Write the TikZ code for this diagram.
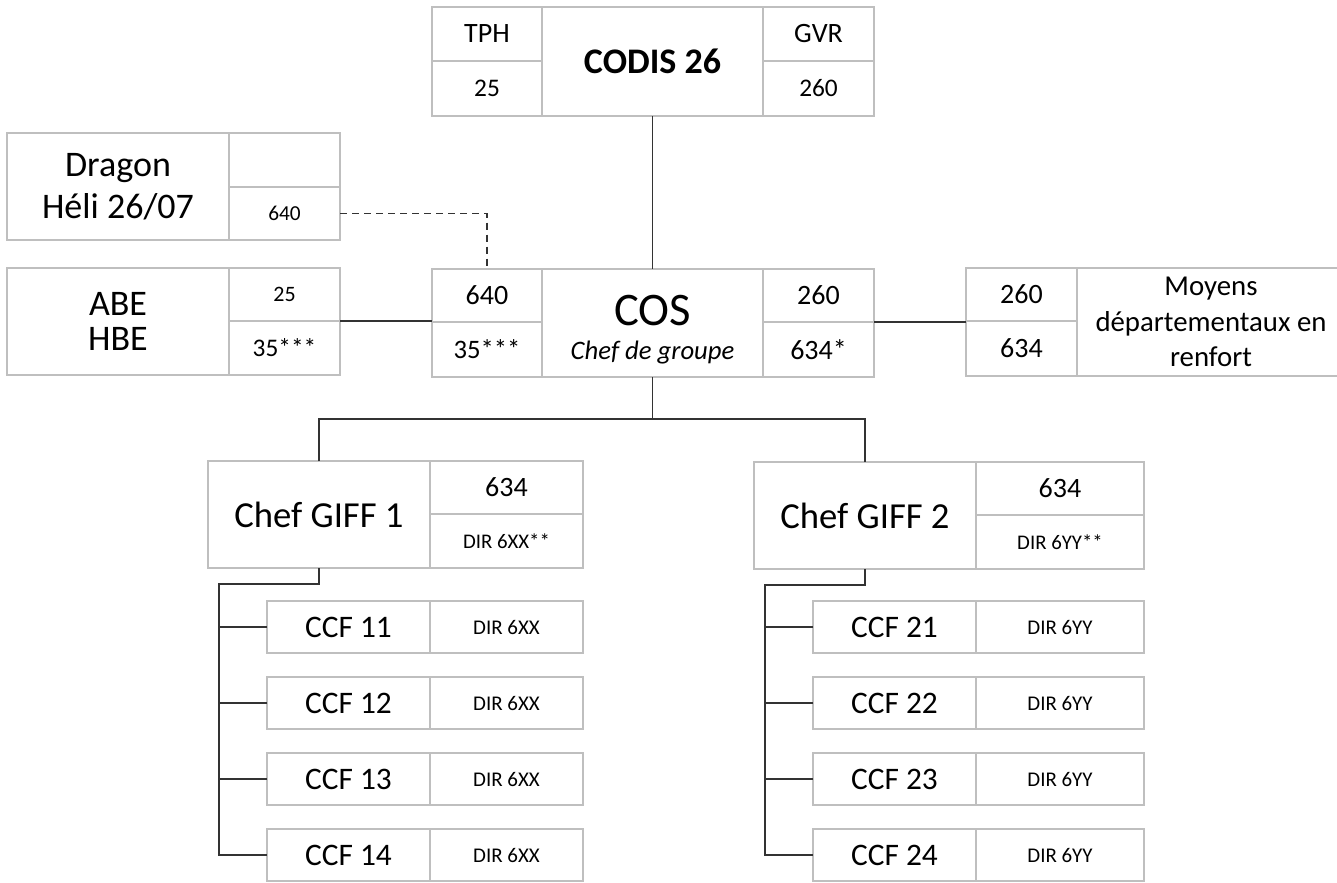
\documentclass[tikz,border=0pt]{standalone}
\usepackage{fontspec}
\setmainfont{Carlito}
\usetikzlibrary{calc,positioning}
\newdimen\udim
\udim=0.75pt
\tikzstyle{cell}=[
  draw=black!25,
  line width=1.5pt,
  rectangle,
  inner sep=0pt,
  outer sep=0pt,
  align=center,
  text centered,
]
\tikzstyle{link}=[
  draw=black!80,
  line width=1pt,
]
\tikzstyle{radiolink}=[
  link,
  dash pattern=on 5.5pt off 3.5pt,
]
\tikzset{
  cellsize/.style 2 args={minimum width=#1*\udim, minimum height=#2*\udim},
  x=0.75pt,
  y=-0.75pt,
}
\newcommand{\fsz}[2]{\fontsize{#1}{#2}\selectfont}

\begin{document}
\begin{tikzpicture}
  \useasboundingbox (0,0) rectangle (1337,882);
  \clip (0,0) rectangle (1337,882);
  \fill[white] (0,0) rectangle (1337,882);
  % CODIS
  \node (tph) [cell, cellsize={110}{54}, anchor=north west, font=\fsz{21}{25}] at (432,7) {TPH};
  \node (tphnum) [cell, cellsize={110}{55}, below=0pt of tph, font=\fsz{19}{23}] {25};
  \node (codis) [cell, cellsize={221}{109}, anchor=north west, font=\bfseries\fsz{27}{32}] at (tph.north east) {CODIS 26};
  \node (gvr) [cell, cellsize={111}{54}, anchor=north west, font=\fsz{21}{25}] at (codis.north east) {GVR};
  \node (gvrnum) [cell, cellsize={111}{55}, below=0pt of gvr, font=\fsz{19}{23}] {260};
  % Dragon
  \node (dragon) [cell, cellsize={222}{107}, anchor=north west, font=\fsz{27}{31.5}] at (7,133) {Dragon\\Héli 26/07};
  \node (dragonfree) [cell, cellsize={111}{54}, anchor=north west] at (dragon.north east) {};
  \node (dragonnum) [cell, cellsize={111}{53}, below=0pt of dragonfree, font=\fsz{16}{19}] {640};
  % ABE / HBE
  \node (abe) [cell, cellsize={222}{107}, anchor=north west, font=\fsz{27}{26}] at (7,268) {ABE\\HBE};
  \node (abeup) [cell, cellsize={111}{53}, anchor=north west, font=\fsz{16.5}{19}] at (abe.north east) {25};
  \node (abedown) [cell, cellsize={111}{54}, below=0pt of abeup, font=\fsz{19}{23}] {35***};
  % COS
  \node (cosa) [cell, cellsize={110}{53}, anchor=north west, font=\fsz{21}{25}] at (432,269) {640};
  \node (cosb) [cell, cellsize={110}{55}, below=0pt of cosa, font=\fsz{20}{24}] {35***};
  \node (cos) [cell, cellsize={221}{108}, anchor=north west, font=\fsz{20}{26}] at (cosa.north east)
    {{\fsz{35}{26}\rule{0pt}{32.5pt}COS}\\{\itshape Chef de groupe}};
  \node (cosc) [cell, cellsize={111}{53}, anchor=north west, font=\fsz{21}{25}] at (cos.north east) {260};
  \node (cosd) [cell, cellsize={111}{55}, below=0pt of cosc, font=\fsz{21}{25}] {634*};
  % renforts
  \node (moyup) [cell, cellsize={111}{53}, anchor=north west, font=\fsz{21}{25}] at (966,268) {260};
  \node (moydown) [cell, cellsize={111}{55}, below=0pt of moyup, font=\fsz{21}{25}] {634};
  \node (moyens) [cell, cellsize={268}{108}, anchor=north west, font=\fsz{21.6}{26.6}] at (moyup.north east)
    {Moyens\\départementaux en\\renfort};
  % GIFF
  \node (giff1) [cell, cellsize={222}{107}, anchor=north west, font=\fsz{27.5}{33}] at (208,461) {Chef GIFF 1};
  \node (giff1up) [cell, cellsize={153}{53}, anchor=north west, font=\fsz{21}{25}] at (giff1.north east) {634};
  \node (giff1down) [cell, cellsize={153}{54}, below=0pt of giff1up, font=\fsz{15.6}{19}] {DIR 6XX**};
  \node (giff2) [cell, cellsize={222}{107}, anchor=north west, font=\fsz{27.5}{33}] at (754,462) {Chef GIFF 2};
  \node (giff2up) [cell, cellsize={168}{53}, anchor=north west, font=\fsz{21}{25}] at (giff2.north east) {634};
  \node (giff2down) [cell, cellsize={168}{54}, below=0pt of giff2up, font=\fsz{15.6}{19}] {DIR 6YY**};
  % CCF
  \foreach \n in {1,...,4}{
    \node (ccf1\n) [cell, cellsize={163}{52}, anchor=north west, font=\fsz{23.5}{28}] at (267,{601+76*(\n-1)}) {CCF 1\n};
    \node (dir1\n) [cell, cellsize={153}{52}, anchor=north west, font=\fsz{15.7}{19}] at (ccf1\n.north east) {DIR 6XX};
    \node (ccf2\n) [cell, cellsize={163}{52}, anchor=north west, font=\fsz{23.5}{28}] at (813,{601+76*(\n-1)}) {CCF 2\n};
    \node (dir2\n) [cell, cellsize={168}{52}, anchor=north west, font=\fsz{15.7}{19}] at (ccf2\n.north east) {DIR 6YY};
  }
  % liaisons
  \draw [link] (codis) -- (cos);
  \draw [radiolink] (dragonnum.east) -| (cosa.north);
  \draw [link] (abeup.south east) -- (abeup.south east -| cosa.west);
  \draw [link] (cosc.south east) -- (cosc.south east -| moyup.west);
  \coordinate (split) at ($(cos.south)+(0,42)$);
  \draw [link] (cos.south) -- (split);
  \draw [link] (giff1.north) |- (split) -| (giff2.north);
  \draw [link] (giff1.south) -- ++(0,16) -| ($(ccf14.west)+(-48,0)$) -- (ccf14.west);
  \draw [link] (giff2.south) -- ++(0,16) -| ($(ccf24.west)+(-48,0)$) -- (ccf24.west);
  \foreach \n in {1,2,3}{
    \draw [link] (ccf1\n.west) -- ++(-48,0);
    \draw [link] (ccf2\n.west) -- ++(-48,0);
  }
\end{tikzpicture}
\end{document}
